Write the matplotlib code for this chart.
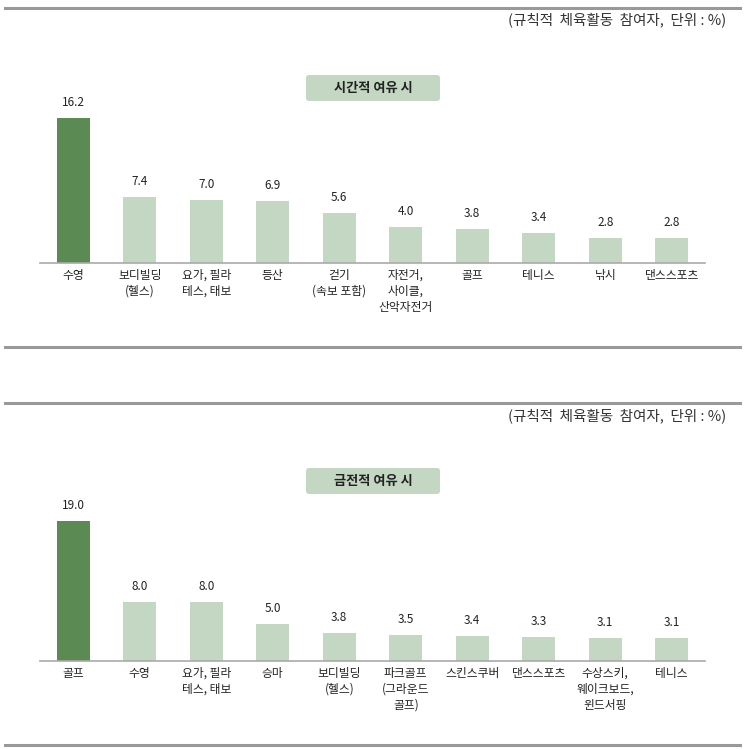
import matplotlib.pyplot as plt
from matplotlib.patches import FancyBboxPatch
from matplotlib.lines import Line2D

plt.rcParams['font.family'] = ['Noto Sans CJK KR', 'DejaVu Sans']

# 시간적 여유 시
cat_time = ['수영', '보디빌딩\n(헬스)', '요가, 필라\n테스, 태보', '등산', '걷기\n(속보 포함)',
            '자전거,\n사이클,\n산악자전거', '골프', '테니스', '낚시', '댄스스포츠']
val_time = [16.2, 7.4, 7.0, 6.9, 5.6, 4.0, 3.8, 3.4, 2.8, 2.8]

# 금전적 여유 시
cat_money = ['골프', '수영', '요가, 필라\n테스, 태보', '승마', '보디빌딩\n(헬스)',
             '파크골프\n(그라운드\n골프)', '스킨스쿠버', '댄스스포츠', '수상스키,\n웨이크보드,\n윈드서핑', '테니스']
val_money = [19.0, 8.0, 8.0, 5.0, 3.8, 3.5, 3.4, 3.3, 3.1, 3.1]

note = '(규칙적  체육활동  참여자,  단위 : %)'
dark = '#5b8a52'
light = '#c3d7c2'

W, H = 745, 750
fig = plt.figure(figsize=(W / 100, H / 100), dpi=100)


def fx(px):
    return px / W


def fy(py):
    return 1 - py / H


def panel(cats, vals, base_py, top_py, px_per_unit, title, title_py, note_py):
    ax = fig.add_axes([fx(40), fy(base_py), fx(705 - 40), (base_py - top_py) / H])
    x = range(len(vals))
    colors = [dark] + [light] * (len(vals) - 1)
    ax.bar(x, vals, width=0.5, color=colors)
    ax.set_xlim(-0.5, len(vals) - 0.5)
    ax.set_ylim(0, (base_py - top_py) / px_per_unit)
    for i, v in enumerate(vals):
        ax.annotate(f'{v:.1f}', (i, v), xytext=(0, 6.5), textcoords='offset points',
                    ha='center', va='bottom', fontsize=8.5, color='#222222')
    ax.set_xticks(list(x))
    ax.set_xticklabels(cats, fontsize=8.5, linespacing=1.3, color='#222222', va='top')
    ax.tick_params(axis='x', length=0, pad=4)
    ax.set_yticks([])
    for s in ['top', 'right', 'left']:
        ax.spines[s].set_visible(False)
    ax.spines['bottom'].set_color('#aaaaaa')
    ax.spines['bottom'].set_linewidth(1.2)

    # title box
    bw, bh = 134, 26
    box = FancyBboxPatch((fx(373 - bw / 2), fy(title_py + bh / 2)), fx(bw), bh / H,
                         boxstyle='round,pad=0,rounding_size=0.004',
                         transform=fig.transFigure, facecolor=light, edgecolor='none')
    fig.patches.append(box)
    fig.text(fx(373), fy(title_py), title, ha='center', va='center',
             fontsize=9.5, fontweight='bold', color='#222222')
    fig.text(fx(726), fy(note_py), note, ha='right', va='center',
             fontsize=10.5, color='#333333')


panel(cat_time, val_time, 263, 95, 8.95, '시간적 여유 시', 88, 20)
panel(cat_money, val_money, 661, 495, 7.37, '금전적 여유 시', 481, 416)

for py in [8, 347, 403, 745]:
    fig.add_artist(Line2D([fx(5), fx(740)], [fy(py), fy(py)], transform=fig.transFigure,
                          color='#999999', linewidth=2.2))

fig.savefig('out.png', dpi=100)
